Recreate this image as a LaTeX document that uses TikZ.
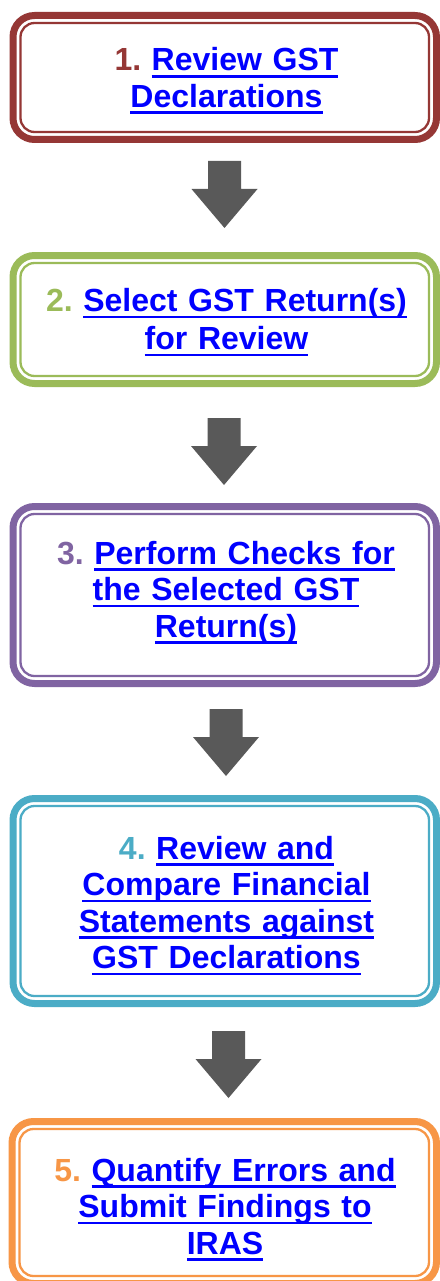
\documentclass[tikz,border=0pt]{standalone}
\usepackage{fontspec}
\setmainfont{Liberation Sans}
\definecolor{cone}{HTML}{953735}
\definecolor{ctwo}{HTML}{9BBB59}
\definecolor{cthree}{HTML}{8064A2}
\definecolor{cfour}{HTML}{4BACC6}
\definecolor{cfive}{HTML}{F79646}
\definecolor{arrowgray}{HTML}{595959}
\definecolor{linkblue}{HTML}{0000FF}
\newsavebox\ulkbox
\newcommand\ulk[1]{\leavevmode\sbox\ulkbox{#1}\rlap{\rule[-6.6pt]{\wd\ulkbox}{2.6pt}}\usebox\ulkbox}
\newcommand\stepnum[2]{\textcolor{#1}{#2}\hspace{10.5pt}}
\tikzset{
  frame/.style={draw=#1, line width=2.3pt, rounded corners=14pt, inner sep=0pt, outer sep=0pt},
  band/.style={draw=#1, line width=7pt, rounded corners=21.5pt},
  steptext/.style={text=linkblue, font=\bfseries\fontsize{32}{36.5}\selectfont, align=center, text width=430pt, inner sep=0pt, anchor=base},
  downarrow/.pic={\fill[arrowgray] (-16.5,0) -- (16.5,0) -- (16.5,28) -- (33,28) -- (0,67) -- (-33,28) -- (-16.5,28) -- cycle;}
}
\newcommand\stepframe[6]{% name, color, x1, y1, x2, y2
  \node[frame=#2, minimum width={#5-#3-22pt}, minimum height={#6-#4-22pt}] (#1) at ({(#3+#5)/2},{(#4+#6)/2}) {};
  \draw[band=#2] ([shift={(-7.5,-7.5)}]#1.north west) rectangle ([shift={(7.5,7.5)}]#1.south east);
}
\begin{document}
\begin{tikzpicture}[x=1pt,y=-1pt]
\useasboundingbox[fill=white] (0,0) rectangle (439,1281);
\stepframe{b1}{cone}{9.5}{12}{440}{143}
\stepframe{b2}{ctwo}{9.5}{252}{440}{387}
\stepframe{b3}{cthree}{9.5}{503}{440}{687}
\stepframe{b4}{cfour}{9.5}{795}{440}{1007}
\stepframe{b5}{cfive}{8.5}{1118}{440}{1287}

\node[steptext] (t1) at (226.5,71) {\stepnum{cone}{1.}\ulk{Review GST}\\\ulk{Declarations}};
\node[steptext, font=\bfseries\fontsize{32}{38}\selectfont] (t2) at (226.5,311.5) {\stepnum{ctwo}{2.}\ulk{Select GST Return(s)}\\\ulk{for Review}};
\node[steptext] (t3) at (226,564) {\stepnum{cthree}{3.}\ulk{Perform Checks for}\\\ulk{the Selected GST}\\\ulk{Return(s)}};
\node[steptext] (t4) at (226.5,859) {\stepnum{cfour}{4.}\ulk{Review and}\\\ulk{Compare Financial}\\\ulk{Statements against}\\\ulk{GST Declarations}};
\node[steptext] (t5) at (225,1181) {\stepnum{cfive}{5.}\ulk{Quantify Errors and}\\\ulk{Submit Findings to}\\\ulk{IRAS}};

\coordinate (a1) at (224.5,161);
\coordinate (a2) at (224,418);
\coordinate (a3) at (226,709);
\coordinate (a4) at (228.5,1031);
\pic at (a1) {downarrow};
\pic at (a2) {downarrow};
\pic at (a3) {downarrow};
\pic at (a4) {downarrow};
\end{tikzpicture}
\end{document}
